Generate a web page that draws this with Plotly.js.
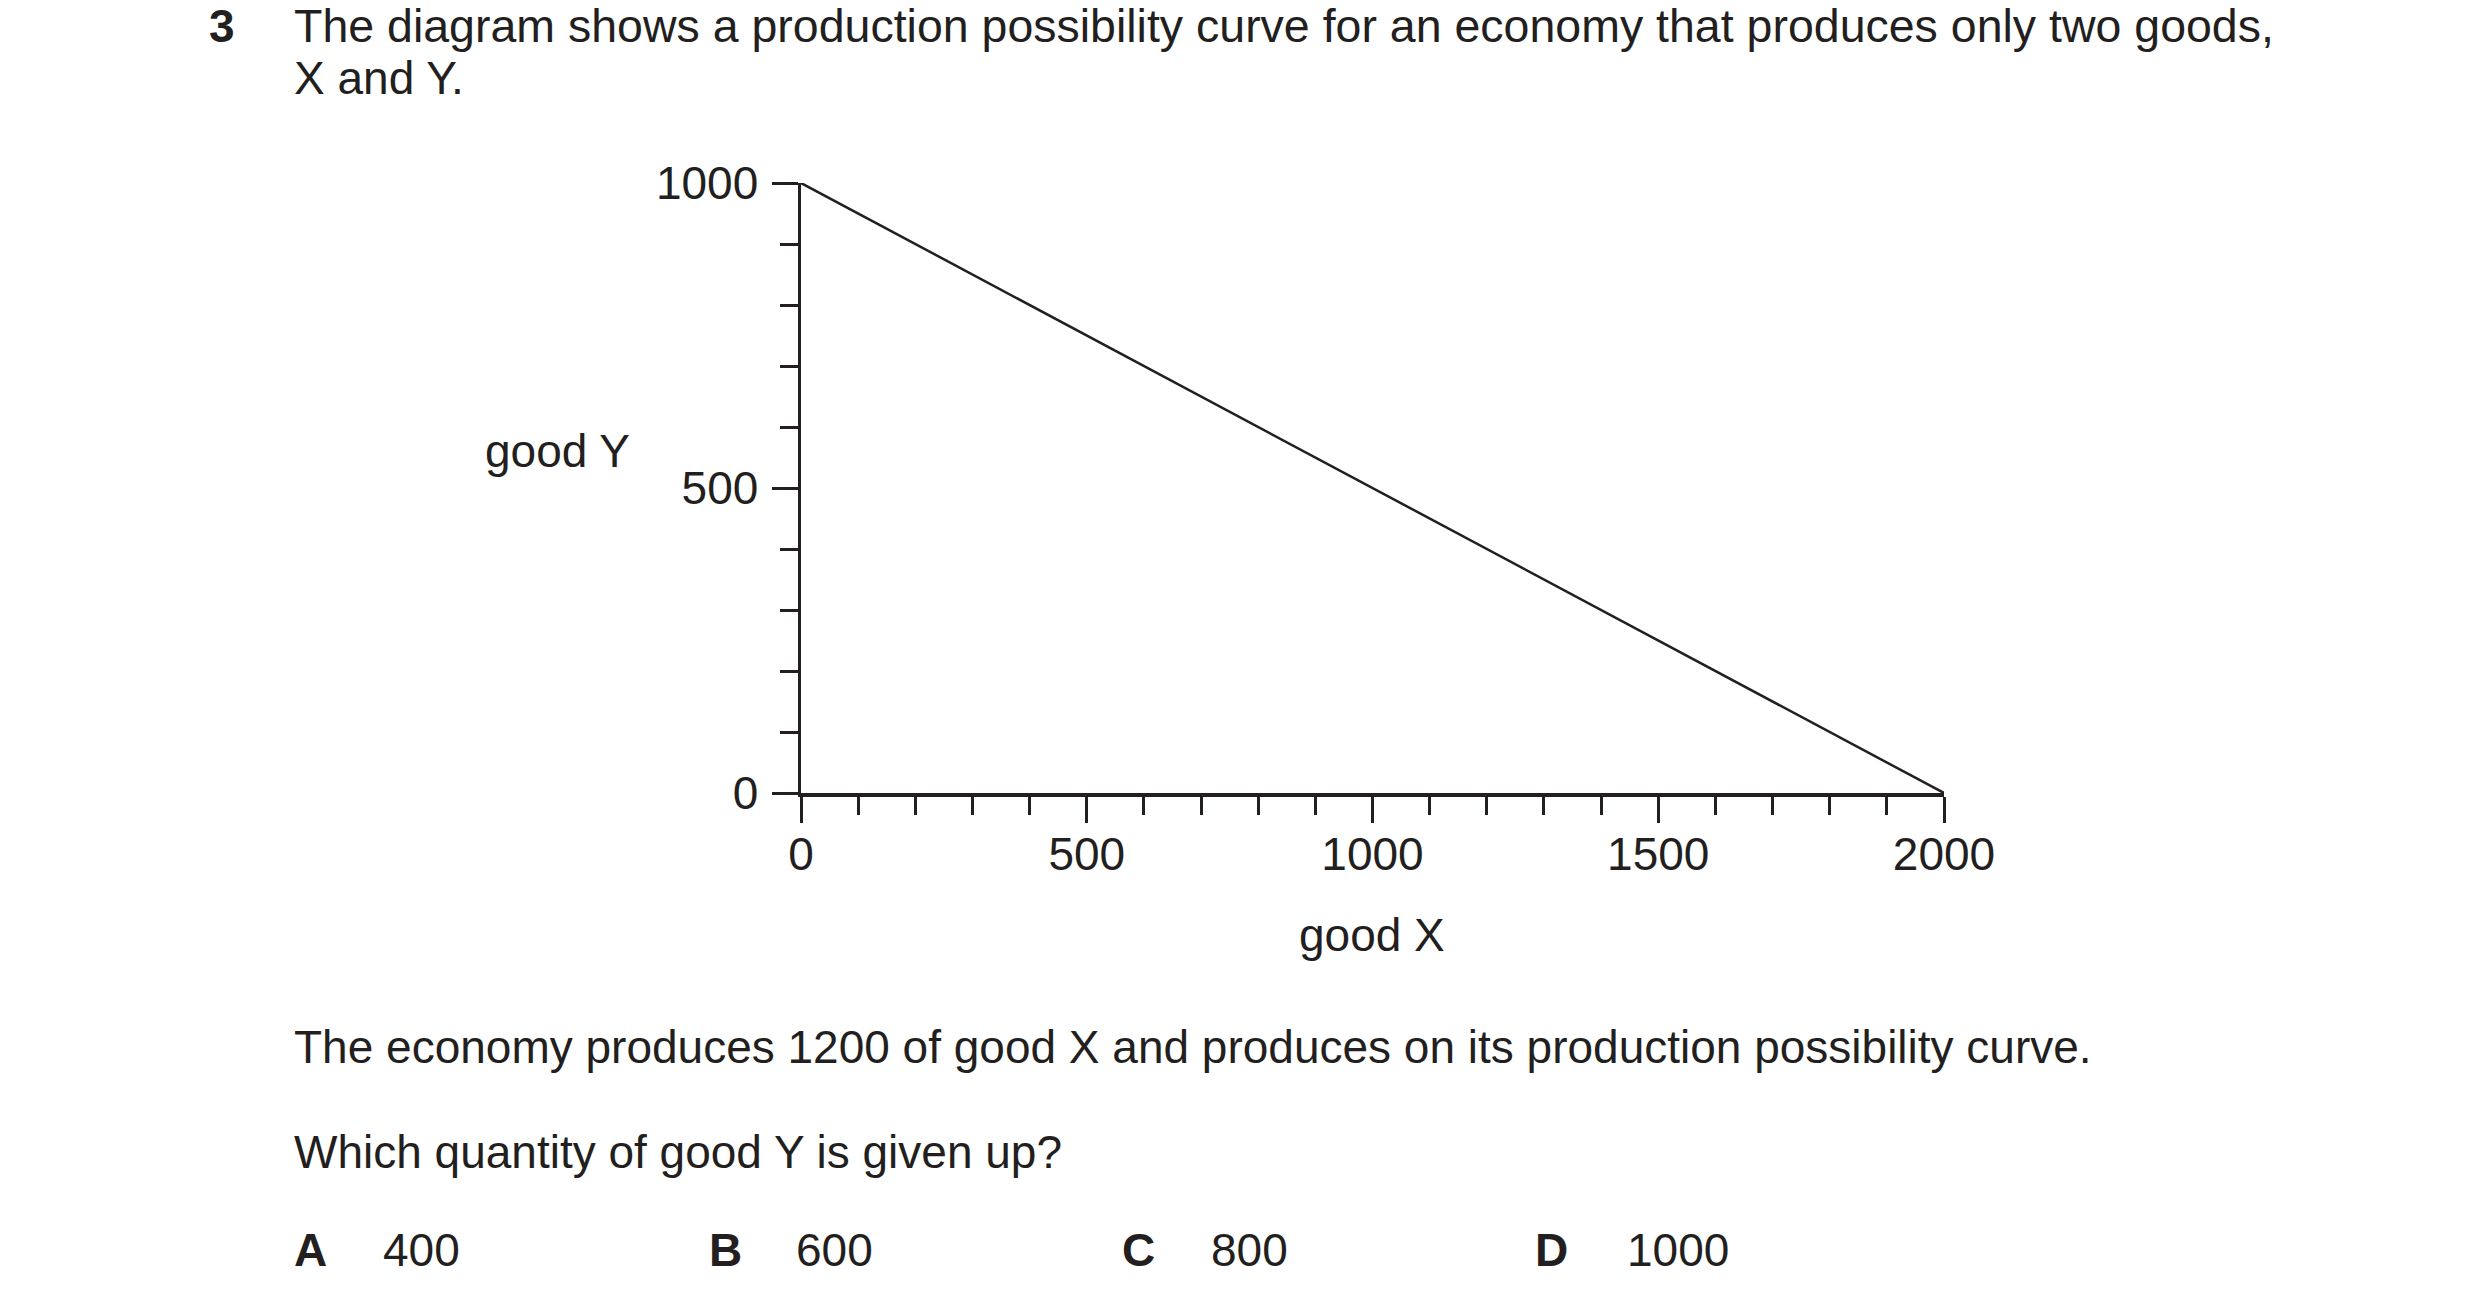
<!DOCTYPE html>
<html>
<head>
<meta charset="utf-8">
<script src="https://cdn.plot.ly/plotly-3.0.1.min.js"></script>
<style>
  html, body { margin: 0; padding: 0; background: #fff; }
  #plot { width: 2480px; height: 1304px; }
</style>
</head>
<body>
<div id="plot"></div>
<script>
// production possibility curve
const goodX = [0, 2000];
const goodY = [1000, 0];

const xTicks = [0, 500, 1000, 1500, 2000];
const yTicks = [0, 500, 1000];

const questionNo = "3";
const questionLines = [
  "The diagram shows a production possibility curve for an economy that produces only two goods,",
  "X and Y."
];
const stemLines = [
  "The economy produces 1200 of good X and produces on its production possibility curve.",
  "Which quantity of good Y is given up?"
];
const optionKeys = ["A", "B", "C", "D"];
const optionValues = ["400", "600", "800", "1000"];

const ink = "#231f20";
const font = "Liberation Sans, Arial, Helvetica, sans-serif";
const fs = 46;

// plot area in page pixels
const L = 801, R = 1944, T = 183.3, B = 792.7;
const W = R - L, H = B - T;
function px(x) { return (x - L) / W; }
function py(y) { return (B - y) / H; }

function note(text, x, y, anchor, size) {
  return {
    text: text, xref: "paper", yref: "paper",
    x: px(x), y: py(y), xanchor: anchor || "left", yanchor: "middle",
    showarrow: false, borderpad: 0,
    font: { family: font, size: size || fs, color: ink }
  };
}

const annotations = [];
annotations.push(note("<b>" + questionNo + "</b>", 208, 26));
annotations.push(note(questionLines[0], 293, 26, "left", 46.5));
annotations.push(note(questionLines[1], 293, 78));
annotations.push(note("good Y", 631, 451, "right"));
annotations.push(note("good X", 1372, 935, "center"));
annotations.push(note(stemLines[0], 293, 1046));
annotations.push(note(stemLines[1], 293, 1151));

const keyX = [293, 708, 1121, 1534];
const valX = [382, 795, 1210, 1626];
for (let i = 0; i < optionKeys.length; i++) {
  annotations.push(note("<b>" + optionKeys[i] + "</b>", keyX[i], 1249));
  annotations.push(note(optionValues[i], valX[i], 1249));
}

const ppc = {
  x: goodX,
  y: goodY,
  mode: "lines",
  type: "scatter",
  line: { color: ink, width: 2.5 },
  hoverinfo: "skip"
};

const axisBase = {
  showline: true, linecolor: ink, linewidth: 3.5,
  ticks: "outside", ticklen: 26, tickwidth: 3, tickcolor: ink,
  showgrid: false, zeroline: false, fixedrange: true,
  tickfont: { family: font, size: fs, color: ink },
  minor: { dtick: 100, ticks: "outside", ticklen: 18, tickwidth: 3, tickcolor: ink, showgrid: false }
};

const layout = {
  width: 2480,
  height: 1304,
  margin: { l: L, r: 2480 - R, t: T, b: 1304 - B, pad: 0 },
  paper_bgcolor: "#fff",
  plot_bgcolor: "#fff",
  showlegend: false,
  xaxis: Object.assign({}, axisBase, {
    range: [0, 2000], tickmode: "array", tickvals: xTicks,
    ticktext: xTicks.map(String), ticklabelstandoff: -8
  }),
  yaxis: Object.assign({}, axisBase, {
    range: [0, 1000], tickmode: "array", tickvals: yTicks,
    ticktext: yTicks.map(String), ticklabelstandoff: 4
  }),
  annotations: annotations
};

Plotly.newPlot("plot", [ppc], layout, { displayModeBar: false, staticPlot: true });
</script>
</body>
</html>
